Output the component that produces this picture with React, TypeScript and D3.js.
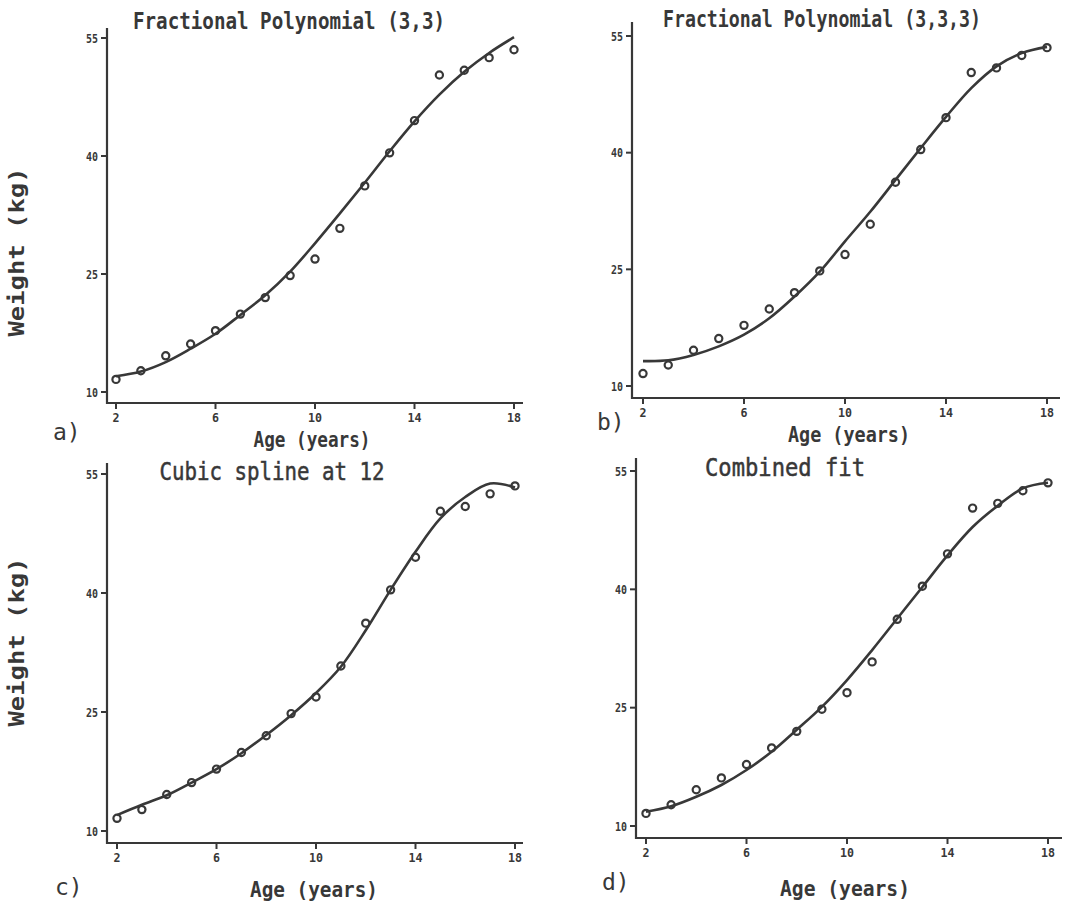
import React from "react";
import * as d3 from "d3";

const ages = [2, 3, 4, 5, 6, 7, 8, 9, 10, 11, 12, 13, 14, 15, 16, 17, 18];
const observedWeight = [11.6, 12.7, 14.6, 16.1, 17.8, 19.9, 22.0, 24.8, 26.9, 30.8, 36.2, 40.4, 44.5, 50.3, 50.9, 52.5, 53.5];
const fitFP33 = [12.0, 12.6, 13.8, 15.5, 17.4, 19.8, 22.3, 25.3, 28.9, 32.7, 36.6, 40.6, 44.4, 47.8, 50.7, 53.1, 55.1];
const fitFP333 = [13.2, 13.3, 14.0, 15.1, 16.6, 18.7, 21.5, 24.7, 28.6, 32.4, 36.5, 40.6, 44.6, 48.3, 51.1, 52.8, 53.6];
const fitSpline = [12.0, 13.3, 14.5, 16.1, 17.8, 19.8, 22.1, 24.6, 27.4, 30.7, 35.3, 40.4, 45.2, 49.4, 52.1, 53.8, 53.3];
const fitCombined = [11.8, 12.5, 13.7, 15.2, 17.1, 19.4, 22.2, 25.1, 28.5, 32.3, 36.3, 40.3, 44.3, 47.9, 50.6, 52.8, 53.5];

const xTicks = [2, 6, 10, 14, 18];
const yTicks = [10, 25, 40, 55];

const panelTitles = ["Fractional Polynomial (3,3)", "Fractional Polynomial (3,3,3)", "Cubic spline at 12", "Combined fit"];
const panelLetters = ["a)", "b)", "c)", "d)"];
const xLabel = "Age (years)";
const yLabel = "Weight (kg)";

const INK = "#383838";
const MONO = "'DejaVu Sans Mono', 'Liberation Mono', monospace";

type Layout = {
  x2: number; x18: number; y10: number; y55: number;
  axisX: number; axisTop: number; axisY: number; axisRight: number;
  titleX: number; titleY: number; titleW: number; titleSize: number; titleBold: boolean;
  xlabX: number; xlabY: number; xlabW: number;
  letX: number; letY: number;
  ylab: boolean; ylabY: number;
};

const layouts: Layout[] = [
  { x2: 116, x18: 514, y10: 392, y55: 38, axisX: 107, axisTop: 28, axisY: 403, axisRight: 523,
    titleX: 289, titleY: 29, titleW: 312, titleSize: 23, titleBold: true, xlabX: 312, xlabY: 447, xlabW: 117, letX: 53, letY: 440, ylab: true, ylabY: 252 },
  { x2: 643, x18: 1047, y10: 386, y55: 36, axisX: 632, axisTop: 22, axisY: 398, axisRight: 1060,
    titleX: 822, titleY: 27, titleW: 318, titleSize: 23, titleBold: true, xlabX: 849, xlabY: 442, xlabW: 122, letX: 597, letY: 430, ylab: false, ylabY: 0 },
  { x2: 117, x18: 515, y10: 831, y55: 474, axisX: 107, axisTop: 463, axisY: 843, axisRight: 523,
    titleX: 272, titleY: 480, titleW: 225, titleSize: 24, titleBold: false, xlabX: 314, xlabY: 897, xlabW: 128, letX: 55, letY: 895, ylab: true, ylabY: 642 },
  { x2: 646, x18: 1048, y10: 826, y55: 471, axisX: 636, axisTop: 458, axisY: 838, axisRight: 1062,
    titleX: 785, titleY: 476, titleW: 160, titleSize: 25, titleBold: false, xlabX: 845, xlabY: 896, xlabW: 130, letX: 602, letY: 890, ylab: false, ylabY: 0 },
];

const fits = [fitFP33, fitFP333, fitSpline, fitCombined];

function Panel({ i }: { i: number }) {
  const L = layouts[i];
  const x = d3.scaleLinear().domain([2, 18]).range([L.x2, L.x18]);
  const y = d3.scaleLinear().domain([10, 55]).range([L.y10, L.y55]);
  const fit = fits[i];
  const line = d3
    .line<number>()
    .x((_, k) => x(ages[k]))
    .y((d) => y(d))
    .curve(d3.curveCatmullRom.alpha(0.5));
  return (
    <g>
      <text x={L.titleX} y={L.titleY} fontFamily={MONO} fontSize={L.titleSize} fontWeight={L.titleBold ? "bold" : "normal"}
        fill={INK} stroke={L.titleBold ? "none" : INK} strokeWidth={L.titleBold ? 0 : 0.5}
        textAnchor="middle" textLength={L.titleW} lengthAdjust="spacingAndGlyphs">{panelTitles[i]}</text>
      {/* axes */}
      <line x1={L.axisX} x2={L.axisX} y1={L.axisTop} y2={L.axisY + 1} stroke={INK} strokeWidth={2.2} />
      <line x1={L.axisX - 1} x2={L.axisRight} y1={L.axisY} y2={L.axisY} stroke={INK} strokeWidth={2.2} />
      {yTicks.map((t) => (
        <g key={"y" + t}>
          <line x1={L.axisX - 6} x2={L.axisX} y1={y(t)} y2={y(t)} stroke={INK} strokeWidth={2} />
          <text x={L.axisX - 9} y={y(t) + 4.5} fontFamily={MONO} fontSize={12} fontWeight="bold" fill={INK}
            textAnchor="end" textLength={12} lengthAdjust="spacingAndGlyphs">{t}</text>
        </g>
      ))}
      {xTicks.map((t) => (
        <g key={"x" + t}>
          <line x1={x(t)} x2={x(t)} y1={L.axisY} y2={L.axisY + 6} stroke={INK} strokeWidth={2} />
          <text x={x(t)} y={L.axisY + 19} fontFamily={MONO} fontSize={13} fontWeight="bold" fill={INK}
            textAnchor="middle" textLength={String(t).length * 7} lengthAdjust="spacingAndGlyphs">{t}</text>
        </g>
      ))}
      {/* fitted curve */}
      <path d={line(fit) || ""} fill="none" stroke={INK} strokeWidth={2.6} strokeLinejoin="round" />
      {/* observed points */}
      {observedWeight.map((w, k) => (
        <circle key={k} cx={x(ages[k])} cy={y(w)} r={3.6} fill="none" stroke={INK} strokeWidth={2.2} />
      ))}
      <text x={L.xlabX} y={L.xlabY} fontFamily={MONO} fontSize={22} fontWeight="bold" fill={INK} textAnchor="middle"
        textLength={L.xlabW} lengthAdjust="spacingAndGlyphs">{xLabel}</text>
      <text x={L.letX} y={L.letY} fontFamily={MONO} fontSize={23} fill={INK}>{panelLetters[i]}</text>
      {L.ylab && (
        <text transform={`translate(24,${L.ylabY}) rotate(-90)`} fontFamily={MONO} fontSize={22} fontWeight="bold"
          fill={INK} textAnchor="middle" textLength={169} lengthAdjust="spacingAndGlyphs">{yLabel}</text>
      )}
    </g>
  );
}

export default function App() {
  return (
    <svg width={1084} height={905} style={{ position: "absolute", left: 0, top: 0, background: "#fff" }}>
      <rect width={1084} height={905} fill="#fff" />
      {[0, 1, 2, 3].map((i) => (
        <Panel key={i} i={i} />
      ))}
    </svg>
  );
}
